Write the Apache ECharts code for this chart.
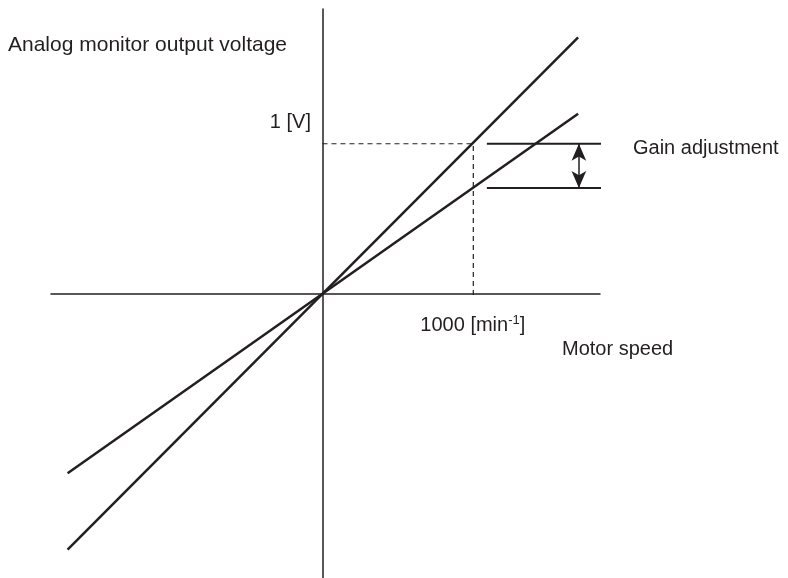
<!DOCTYPE html>
<html>
<head>
<meta charset="utf-8">
<script src="https://cdn.jsdelivr.net/npm/echarts@6/dist/echarts.min.js"></script>
<style>html,body{margin:0;padding:0;background:#fff}#c{width:788px;height:578px}</style>
</head>
<body>
<div id="c"></div>
<script>
// Data (x: motor speed in min^-1, y: analog monitor voltage in V)
const speedEnds = [-1690, 1695];
const steepVolts = [-1.71, 1.71];
const shallowVolts = [-1.2, 1.2];
const refSpeed = 1000;
const refVolt = 1;
const gainLevels = [1, 0.705];
const gainSpeeds = [1090, 1880];
const arrowSpeed = 1700;
const xTickLabels = ['1000 [min', '-1', ']'];
const yTickLabels = ['1 [V]'];

const FONT = 'Liberation Sans, Arial, sans-serif';
const INK = '#231f20';
const FS = 20;

const chart = echarts.init(document.getElementById('c'), null, {renderer: 'canvas'});

const zip = (xs, ys) => xs.map((x, i) => [x, ys[i]]);

const series = [
  {type: 'line', data: zip(speedEnds, steepVolts), symbol: 'none', clip: false, silent: true,
   lineStyle: {color: INK, width: 2.5}},
  {type: 'line', data: zip(speedEnds, shallowVolts), symbol: 'none', clip: false, silent: true,
   lineStyle: {color: INK, width: 2.5}},
  {type: 'line', data: [[0, refVolt], [refSpeed, refVolt], [refSpeed, -0.02]], symbol: 'none', clip: false, silent: true,
   lineStyle: {color: INK, width: 1.2, type: [5, 4]}},
];
gainLevels.forEach(v => {
  series.push({type: 'line', data: gainSpeeds.map(s => [s, v]), symbol: 'none', clip: false, silent: true,
    lineStyle: {color: INK, width: 2}});
});
series.push({
  type: 'line', data: [], silent: true,
  markLine: {
    silent: true, animation: false,
    symbol: ['arrow', 'arrow'], symbolSize: [11, 17],
    lineStyle: {color: INK, width: 1.5, type: 'solid'},
    label: {show: false},
    data: [[{coord: [arrowSpeed, gainLevels[1]]}, {coord: [arrowSpeed, gainLevels[0]]}]]
  }
});
// tick labels anchored at data coordinates
const lbl = {show: true, color: INK, opacity: 1, textBorderWidth: 0, textShadowBlur: 0, fontSize: FS, fontFamily: FONT};
series.push({
  type: 'scatter', silent: true, clip: false, symbolSize: 1,
  itemStyle: {color: INK, opacity: 0},
  emphasis: {disabled: true},
  data: [
    {value: [0, refVolt], label: Object.assign({}, lbl, {formatter: yTickLabels[0], align: 'right', verticalAlign: 'middle',
      position: [0, 0], offset: [-11, -21]})},
    {value: [refSpeed, 0], label: Object.assign({}, lbl, {
      formatter: '{n|' + xTickLabels[0] + '}{s|' + xTickLabels[1] + '}{n|' + xTickLabels[2] + '}',
      align: 'center', verticalAlign: 'middle', position: [0, 0], offset: [0, 32],
      rich: {
        n: {fontSize: FS, fontFamily: FONT, color: INK},
        s: {fontSize: 13, fontFamily: FONT, color: INK, verticalAlign: 'top', padding: [0, 0, 9, 0]}
      }})}
  ]
});

chart.setOption({
  animation: false,
  backgroundColor: '#fff',
  grid: {left: 51, right: 188, top: 9, bottom: 0, containLabel: false, outerBoundsMode: 'none'},
  xAxis: {
    type: 'value', min: -1800, max: 1840,
    axisLine: {onZero: true, lineStyle: {color: INK, width: 1.5}},
    axisTick: {show: false}, splitLine: {show: false}, axisLabel: {show: false}
  },
  yAxis: {
    type: 'value', min: -1.9, max: 1.9,
    axisLine: {onZero: true, lineStyle: {color: INK, width: 1.5}},
    axisTick: {show: false}, splitLine: {show: false}, axisLabel: {show: false}
  },
  graphic: [
    {type: 'text', x: 8, y: 45, silent: true,
     style: {text: 'Analog monitor output voltage', font: '21px ' + FONT, fill: INK, verticalAlign: 'middle'}},
    {type: 'text', x: 562, y: 349, silent: true,
     style: {text: 'Motor speed', font: FS + 'px ' + FONT, fill: INK, verticalAlign: 'middle'}},
    {type: 'text', x: 633, y: 148, silent: true,
     style: {text: 'Gain adjustment', font: FS + 'px ' + FONT, fill: INK, verticalAlign: 'middle'}}
  ],
  series: series
});
</script>
</body>
</html>
